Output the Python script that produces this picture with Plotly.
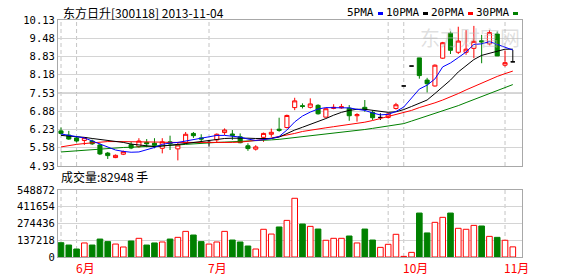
import plotly.graph_objects as go

# ---------------- data ----------------
idx = list(range(59))
opens = [6.18, 6.03, 5.93, 5.84, 5.82, 5.68, 5.39, 5.23, 5.35, 5.69,
         5.62, 5.77, 5.74, 5.56, 5.79, 5.54, 5.76, 6.09, 5.93, 5.77,
         5.86, 6.12, 6.07, 5.97, 5.65, 5.53, 5.95, 6.06, 6.24, 6.30,
         7.01, 7.08, 7.02, 7.09, 6.67, 6.98, 7.00, 6.99, 6.72, 7.02,
         6.84, 6.66, 6.66, 6.98, 7.78, 8.49, 8.78, 7.99, 7.78, 8.77,
         9.66, 8.98, 8.98, 9.12, 9.39, 9.28, 9.63, 8.52, 8.64]
highs = [6.30, 6.18, 5.98, 5.96, 5.87, 5.73, 5.43, 5.34, 5.48, 5.79,
         5.92, 5.89, 5.92, 5.92, 6.01, 5.78, 6.14, 6.14, 6.06, 5.86,
         6.09, 6.27, 6.21, 6.09, 5.74, 5.67, 6.12, 6.26, 6.65, 6.76,
         7.36, 7.16, 7.34, 7.13, 6.99, 7.13, 7.14, 7.10, 6.81, 7.28,
         6.91, 6.81, 6.82, 7.18, 7.78, 8.49, 8.78, 8.07, 8.55, 9.35,
         9.72, 9.89, 9.77, 9.92, 9.60, 9.77, 9.72, 9.04, 9.06]
lows = [6.05, 5.86, 5.77, 5.68, 5.68, 5.32, 5.18, 5.21, 5.32, 5.53,
        5.58, 5.60, 5.56, 5.38, 5.50, 5.13, 5.72, 5.93, 5.79, 5.62,
        5.77, 6.03, 5.86, 5.74, 5.47, 5.48, 5.79, 5.97, 6.15, 6.27,
        6.92, 6.98, 6.98, 6.76, 6.66, 6.95, 6.97, 6.54, 6.51, 6.86,
        6.57, 6.57, 6.62, 6.94, 7.78, 8.49, 8.04, 7.55, 7.76, 8.75,
        8.92, 8.92, 8.89, 8.77, 8.59, 9.23, 8.85, 8.47, 8.64]
closes = [6.09, 5.89, 5.82, 5.94, 5.72, 5.36, 5.30, 5.31, 5.44, 5.57,
          5.82, 5.72, 5.67, 5.79, 5.72, 5.68, 6.06, 6.01, 5.89, 5.77,
          6.06, 6.21, 6.02, 5.76, 5.55, 5.61, 6.09, 6.13, 6.20, 6.73,
          7.25, 7.05, 7.14, 6.79, 6.97, 7.02, 7.04, 6.72, 6.76, 6.95,
          6.65, 6.66, 6.78, 7.11, 7.78, 8.49, 8.15, 7.86, 8.52, 9.32,
          9.05, 9.38, 9.09, 9.37, 9.35, 9.68, 8.85, 8.61, 8.64]
volumes = [117000, 98000, 65500, 115000, 98000, 147000, 126000, 106000, 82000, 131000,
           153000, 98000, 115000, 123000, 147000, 161000, 210000, 180000, 126000, 106000,
           123000, 210000, 139000, 123000, 90000, 65500, 227000, 188000, 246000, 300000,
           481000, 270000, 251000, 229000, 137000, 153000, 153000, 172000, 115000, 229000,
           139000, 79000, 104000, 186000, 5000, 38000, 360000, 197000, 284000, 325000,
           360000, 235000, 227000, 259000, 254000, 169000, 161000, 137000, 82948]
ma5 = [6.07, 6.02, 5.98, 5.93, 5.82, 5.71, 5.59, 5.50, 5.45, 5.42,
       5.43, 5.50, 5.59, 5.70, 5.75, 5.77, 5.82, 5.87, 5.91, 5.96,
       6.02, 6.02, 6.00, 5.96, 5.89, 5.84, 5.87, 5.91, 5.98, 6.21,
       6.50, 6.71, 6.85, 6.96, 7.01, 7.01, 7.01, 7.00, 6.95, 6.91,
       6.82, 6.75, 6.77, 6.87, 7.03, 7.35, 7.67, 7.81, 8.03, 8.46,
       8.60, 8.79, 8.99, 9.26, 9.28, 9.36, 9.26, 9.17, 9.06]
ma10 = [6.02, 6.00, 5.98, 5.95, 5.91, 5.88, 5.84, 5.80, 5.77, 5.71,
        5.68, 5.64, 5.62, 5.64, 5.66, 5.70, 5.73, 5.77, 5.80, 5.84,
        5.89, 5.91, 5.92, 5.93, 5.92, 5.91, 5.90, 5.91, 5.96, 6.09,
        6.21, 6.31, 6.41, 6.53, 6.62, 6.74, 6.84, 6.91, 6.95, 6.95,
        6.91, 6.86, 6.84, 6.86, 6.94, 7.05, 7.16, 7.28, 7.51, 7.76,
        7.99, 8.28, 8.51, 8.72, 8.87, 8.94, 9.03, 9.09, 9.09]
ma20 = [5.61, 5.66, 5.70, 5.73, 5.76, 5.78, 5.80, 5.80, 5.80, 5.80,
        5.80, 5.79, 5.78, 5.78, 5.77, 5.77, 5.77, 5.77, 5.76, 5.75,
        5.75, 5.76, 5.77, 5.78, 5.80, 5.84, 5.87, 5.92, 5.97, 6.03,
        6.09, 6.16, 6.21, 6.26, 6.29, 6.33, 6.37, 6.40, 6.44, 6.49,
        6.55, 6.62, 6.68, 6.75, 6.83, 6.91, 7.01, 7.09, 7.18, 7.28,
        7.39, 7.51, 7.64, 7.76, 7.89, 8.01, 8.12, 8.22, 8.31]
ma30 = [5.43, 5.45, 5.48, 5.50, 5.52, 5.55, 5.56, 5.58, 5.59, 5.60,
        5.61, 5.62, 5.63, 5.64, 5.66, 5.68, 5.70, 5.72, 5.75, 5.76,
        5.77, 5.78, 5.79, 5.81, 5.82, 5.83, 5.85, 5.86, 5.88, 5.91,
        5.94, 5.97, 6.00, 6.03, 6.06, 6.09, 6.12, 6.16, 6.19, 6.23,
        6.27, 6.31, 6.35, 6.39, 6.44, 6.53, 6.62, 6.71, 6.80, 6.89,
        6.98, 7.08, 7.19, 7.30, 7.41, 7.51, 7.62, 7.73, 7.83]
price_ticks = [4.93, 5.58, 6.23, 6.88, 7.53, 8.18, 8.83, 9.48, 10.13]
vol_ticks = [0, 137218, 274436, 411654, 548872]
month_pos = [2, 19, 44, 57]
month_labels = ["6月", "7月", "10月", "11月"]
divider_pos = [0, 2, 19, 42, 44, 57]
title_text = "东方日升[300118] 2013-11-04"
vol_label = "成交量:" + str(volumes[-1]) + " 手"
ma_names = ["5PMA", "10PMA", "20PMA", "30PMA"]
ma_colors = ["#0000ff", "#000000", "#ff0000", "#008000"]

# ---------------- layout helpers ----------------
W, H = 578, 276
L, R, T, B = 58, 56, 20, 19
PW, PH = W - L - R, H - T - B


def ypap(py):
    return (H - B - py) / PH


def xpap(px):
    return (px - L) / PW


RED, GREEN = "#ff0000", "#008000"
FRAME, GRID = "#a8a8a8", "#d4d4d4"
price_dom = [ypap(166), 1.0]
vol_dom = [0.0, ypap(190)]
xr = [-0.385, 59.18]

fig = go.Figure()

# candles
up = [i for i in idx if closes[i] > opens[i]]
dn = [i for i in idx if closes[i] < opens[i]]
fl = [i for i in idx if closes[i] == opens[i]]


def candle(sel, line_c, fill_c):
    return go.Candlestick(
        x=sel,
        open=[opens[i] for i in sel], high=[highs[i] for i in sel],
        low=[lows[i] for i in sel], close=[closes[i] for i in sel],
        increasing=dict(line=dict(color=line_c, width=1), fillcolor=fill_c),
        decreasing=dict(line=dict(color=line_c, width=1), fillcolor=fill_c),
        whiskerwidth=0, showlegend=False, hoverinfo="skip",
        xaxis="x", yaxis="y")


fig.add_trace(candle(up, RED, "#ffffff"))
fig.add_trace(candle(dn, GREEN, GREEN))
fig.add_trace(candle(fl, "#000000", "#000000"))

# moving averages
for vals, c in zip([ma30, ma20, ma10, ma5], ma_colors[::-1]):
    fig.add_trace(go.Scatter(x=idx, y=vals, mode="lines",
                             line=dict(color=c, width=1),
                             showlegend=False, hoverinfo="skip",
                             xaxis="x", yaxis="y"))

# volume
is_up = [closes[i] >= opens[i] for i in idx]
fig.add_trace(go.Bar(
    x=idx, y=volumes, width=0.72,
    marker=dict(color=["#ffffff" if u else GREEN for u in is_up],
                line=dict(color=[RED if u else GREEN for u in is_up], width=1)),
    showlegend=False, hoverinfo="skip", xaxis="x2", yaxis="y2"))

tickfont = dict(family="DejaVu Sans Mono", size=10.5, color="#000000")
ax_common = dict(showline=True, mirror=True, linecolor=FRAME, linewidth=1,
                 zeroline=False, ticks="")
fig.update_layout(
    width=W, height=H,
    margin=dict(l=L, r=R, t=T, b=B, pad=0),
    paper_bgcolor="#ffffff", plot_bgcolor="#ffffff",
    boxgap=0.25,
    showlegend=False,
    xaxis=dict(domain=[0, 1], range=xr, showgrid=False, showticklabels=False,
               rangeslider=dict(visible=False), anchor="y", **ax_common),
    yaxis=dict(domain=price_dom, range=[price_ticks[0], price_ticks[-1]],
               tickvals=price_ticks, ticktext=["%.2f" % v for v in price_ticks],
               showgrid=True, gridcolor=GRID, gridwidth=1, tickfont=tickfont,
               anchor="x", **ax_common),
    xaxis2=dict(domain=[0, 1], range=xr, matches="x", showgrid=False,
                showticklabels=False, anchor="y2", **ax_common),
    yaxis2=dict(domain=vol_dom, range=[vol_ticks[0], vol_ticks[-1]],
                tickvals=vol_ticks, ticktext=[str(v) for v in vol_ticks],
                showgrid=True, gridcolor=GRID, gridwidth=1, tickfont=tickfont,
                anchor="x2", **ax_common),
)

shapes = []
for p in divider_pos:
    for ya, dom in (("y", price_dom), ("y2", vol_dom)):
        shapes.append(dict(type="line", xref="x", yref="paper", x0=p, x1=p,
                           y0=dom[0], y1=dom[1], layer="below",
                           line=dict(color="#c4c4c4", width=1, dash="4px,3px")))
shapes.append(dict(type="line", xref="paper", yref="y", x0=0, x1=1,
                   y0=price_ticks[4], y1=price_ticks[4], layer="below",
                   line=dict(color="#b0b0b0", width=1)))

annotations = []
cjk = "Noto Sans CJK SC"
annotations.append(dict(text=title_text, xref="paper", yref="paper",
                        x=xpap(61), y=ypap(13), xanchor="left", yanchor="middle",
                        showarrow=False, font=dict(family=cjk, size=12, color="#000")))
annotations.append(dict(text=vol_label, xref="paper", yref="paper",
                        x=xpap(59), y=ypap(176), xanchor="left", yanchor="middle",
                        showarrow=False, font=dict(family=cjk, size=12, color="#000")))
annotations.append(dict(text="东方财富网", xref="paper", yref="paper",
                        x=xpap(470), y=ypap(37), xanchor="center", yanchor="middle",
                        showarrow=False,
                        font=dict(family=cjk, size=20, color="rgba(185,185,185,0.45)")))
for p, lab in zip(month_pos, month_labels):
    annotations.append(dict(text=lab, xref="x", yref="paper", x=p, xshift=-3,
                            y=ypap(267), xanchor="left", yanchor="middle",
                            showarrow=False,
                            font=dict(family=cjk, size=12, color=RED)))
# MA legend
leg_right = [376, 421, 466, 511]
for name, c, xr_ in zip(ma_names, ma_colors, leg_right):
    annotations.append(dict(text=name, xref="paper", yref="paper",
                            x=xpap(xr_), y=ypap(13), xanchor="right", yanchor="middle",
                            showarrow=False,
                            font=dict(family="DejaVu Sans Mono", size=11, color="#000")))
    shapes.append(dict(type="rect", xref="paper", yref="paper",
                       x0=xpap(xr_ + 2), x1=xpap(xr_ + 7),
                       y0=ypap(15), y1=ypap(12), fillcolor=c, line=dict(width=0)))

fig.update_layout(shapes=shapes, annotations=annotations)
fig.write_html("out.html")
